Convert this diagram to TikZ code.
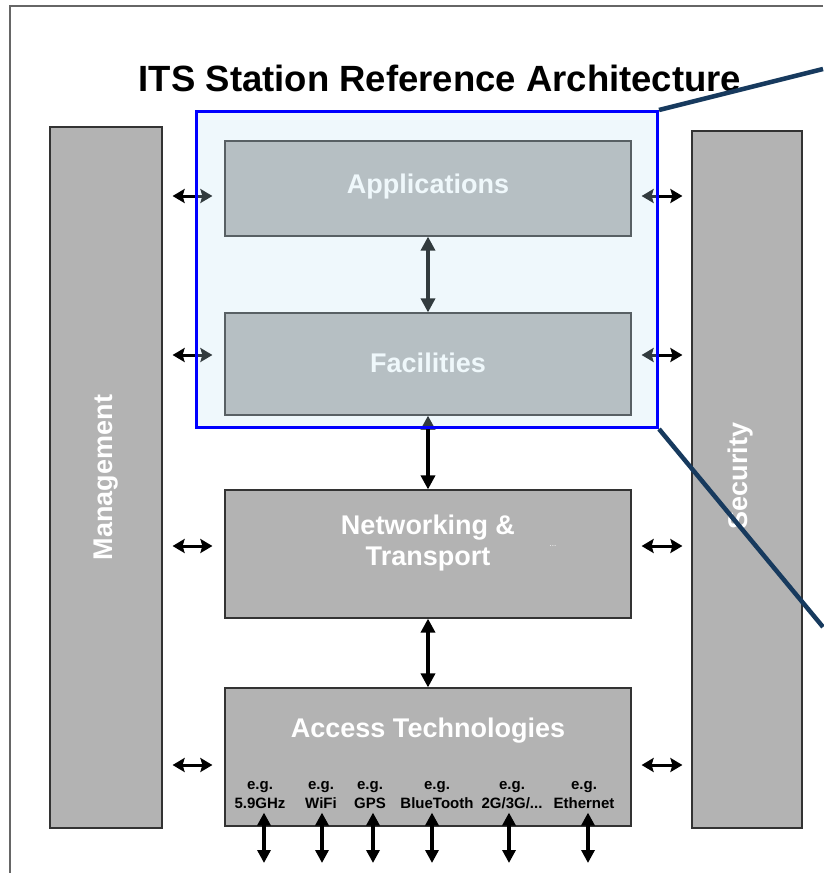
\documentclass[tikz,border=0pt]{standalone}
\usepackage{fontspec}
\setmainfont{Liberation Sans}
\usetikzlibrary{arrows.meta}
\definecolor{blockgray}{HTML}{B3B3B3}
\definecolor{framegray}{HTML}{666666}
\definecolor{navy}{RGB}{23,58,94}
\definecolor{tint}{RGB}{194,228,243}
\begin{document}
\begin{tikzpicture}[x=1pt,y=-1pt,
  layer/.style={draw=black!80, line width=1.2pt, fill=blockgray,
    minimum width=406pt, inner sep=0pt},
  column/.style={draw=black!80, line width=1.2pt, fill=blockgray, inner sep=0pt},
  bigtext/.style={text=white, align=center, inner sep=0pt,
    font=\fontsize{27pt}{31pt}\selectfont\bfseries},
  tech/.style={align=center, inner sep=0pt,
    font=\fontsize{15pt}{19pt}\selectfont\bfseries},
  sidelink/.style={{Stealth[length=12pt,width=14pt,inset=2pt]}-{Stealth[length=12pt,width=14pt,inset=2pt]},
    line width=3pt},
  stacklink/.style={{Triangle[length=14pt,width=14pt]}-{Triangle[length=14pt,width=14pt]},
    line width=3.4pt},
  radiolink/.style={{Triangle[length=13pt,width=13pt]}-{Triangle[length=13pt,width=13pt]},
    line width=3.4pt},
  zoomframe/.style={draw=blue, line width=3pt, fill=tint, fill opacity=0.26,
    draw opacity=1, inner sep=0pt},
  zoomline/.style={draw=navy, line width=4.5pt}
]
\useasboundingbox (0,0) rectangle (823,873);

% outer frame
\draw[framegray, line width=1.5pt] (823,6) -- (10,6) -- (10,873);

% title
\node[font=\fontsize{36.5pt}{40pt}\selectfont\bfseries] (title) at (440,78) {ITS Station Reference Architecture};

% side columns
\node[column, minimum width=112pt, minimum height=701pt] (mgmt) at (106,477.5) {};
\node[bigtext, rotate=90] (mgmtlabel) at (mgmt.center) {Management};
\node[column, minimum width=110pt, minimum height=697pt] (sec) at (747,479.5) {};
\node[bigtext, rotate=90] (seclabel) at (741,476) {Security};

% protocol layers
\node[layer, minimum height=95pt] (app) at (428,188.5) {};
\node[bigtext] (applabel) at (428,187) {Applications};
\node[layer, minimum height=102pt] (fac) at (428,364) {};
\node[bigtext] (faclabel) at (428,363) {Facilities};
\node[layer, minimum height=128pt] (net) at (428,554) {};
\node[bigtext] (netlabel) at (428,543) {Networking \&\\Transport};
\node[text=white, font=\fontsize{8pt}{8pt}\selectfont, inner sep=0pt] (netdots) at (553,546) {...};
\node[layer, minimum height=138pt] (acc) at (428,757) {};
\node[bigtext] (acclabel) at (428,731) {Access Technologies};

% access technology examples
\node[tech] (t1) at (260,795) {e.g.\\5.9GHz};
\node[tech] (t2) at (321,795) {e.g.\\WiFi};
\node[tech] (t3) at (370,795) {e.g.\\GPS};
\node[tech] (t4) at (437,795) {e.g.\\BlueTooth};
\node[tech] (t5) at (512,795) {e.g.\\2G/3G/...};
\node[tech] (t6) at (584,795) {e.g.\\Ethernet};

\coordinate (r1) at (264,863);
\coordinate (r2) at (322,863);
\coordinate (r3) at (373,863);
\coordinate (r4) at (432,863);
\coordinate (r5) at (509,863);
\coordinate (r6) at (588,863);
\foreach \i in {1,...,6}
  \draw[radiolink, shorten <=-14pt] (acc.south -| r\i) -- (r\i);

% links between layers
\draw[stacklink] (app.south) -- (fac.north);
\draw[stacklink] (fac.south) -- (net.north);
\draw[stacklink] (net.south) -- (acc.north);

% links to management and security
\foreach \n/\dy in {app/-7.5, fac/9, net/8, acc/-8} {
  \draw[sidelink, shorten <=10pt, shorten >=12pt]
    ([yshift=\dy pt]\n.west -| mgmt.east) -- ([yshift=\dy pt]\n.west);
  \draw[sidelink, shorten <=10pt, shorten >=9pt]
    ([yshift=\dy pt]\n.east) -- ([yshift=\dy pt]\n.east -| sec.west);
}

% highlighted upper layers
\node[zoomframe, minimum width=461pt, minimum height=316pt] (focus) at (427,269.5) {};
\coordinate (zoomtop) at (823,69);
\coordinate (zoombot) at (823,627);
\draw[zoomline] (focus.north east) -- (zoomtop);
\draw[zoomline] (focus.south east) -- (zoombot);
\end{tikzpicture}
\end{document}
